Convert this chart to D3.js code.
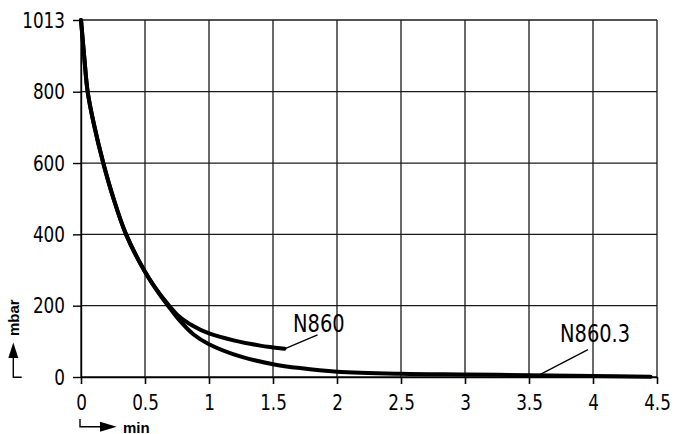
<!DOCTYPE html>
<html>
<head>
<meta charset="utf-8">
<script src="https://cdn.jsdelivr.net/npm/d3@7"></script>
<style>
  body { margin: 0; background: #fff; }
  svg { display: block; }
  .axis text { font-family: "Liberation Sans Narrow", "DejaVu Sans Condensed", "Liberation Sans", sans-serif; fill: #000; }
</style>
</head>
<body>
<div id="chart-area"></div>
<script>
// pump-down curves, pressure in mbar against time in min
var timeN860 = [0, 0.025, 0.052, 0.1, 0.174, 0.25, 0.352, 0.5, 0.617, 0.68, 0.76, 0.877, 1.0, 1.2, 1.4, 1.5, 1.59];
var pressN860 = [1013, 905, 800, 710, 600, 505, 400, 295, 232, 204, 172, 143, 122, 102, 88, 83, 79];

var timeN8603 = [0, 0.025, 0.052, 0.1, 0.174, 0.25, 0.352, 0.5, 0.617, 0.68, 0.76, 0.877, 1.0, 1.25, 1.5, 1.71, 2.0, 2.5, 3.0, 3.5, 4.0, 4.45];
var pressN8603 = [1013, 905, 800, 710, 600, 505, 400, 295, 230, 200, 163, 120, 92, 57, 36, 25, 15, 9, 7, 5, 3, 1];

var xTicks = [0, 0.5, 1, 1.5, 2, 2.5, 3, 3.5, 4, 4.5];
var xTickLabels = ["0", "0.5", "1", "1.5", "2", "2.5", "3", "3.5", "4", "4.5"];
var yTicks = [0, 200, 400, 600, 800, 1013];
var yTickLabels = ["0", "200", "400", "600", "800", "1013"];

var seriesNames = ["N860", "N860.3"];

var width = 674, height = 434;
var plotLeft = 81, plotRight = 657, plotTop = 20, plotBottom = 377;
var squeeze = 0.85;

var svg = d3.select("#chart-area").append("svg")
    .attr("width", width)
    .attr("height", height);

var x = d3.scaleLinear().domain([0, 4.5]).range([plotLeft, plotRight]);
// top of the grid is marked 1013 though it sits about where 1000 would
var y = d3.scaleLinear().domain([0, 800, 1013]).range([plotBottom, 91.7, plotTop]);

var font = '"Liberation Sans Narrow", "DejaVu Sans Condensed", "Liberation Sans", sans-serif';

// grid
var grid = svg.append("g").attr("stroke", "#1a1a1a").attr("stroke-width", 1.3);
grid.selectAll("line.h")
    .data(yTicks)
    .enter().append("line")
    .attr("class", "h")
    .attr("x1", plotLeft).attr("x2", plotRight)
    .attr("y1", (d) => y(d)).attr("y2", (d) => y(d));
grid.selectAll("line.v")
    .data(xTicks)
    .enter().append("line")
    .attr("class", "v")
    .attr("x1", (d) => x(d)).attr("x2", (d) => x(d))
    .attr("y1", plotTop).attr("y2", plotBottom);

var xAxis = d3.axisBottom(x)
    .tickValues(xTicks)
    .tickFormat((d, i) => xTickLabels[i])
    .tickSizeInner(7)
    .tickSizeOuter(0)
    .tickPadding(10);
svg.append("g")
    .attr("class", "axis")
    .attr("transform", "translate(0," + plotBottom + ")")
    .call(xAxis)
    .attr("font-size", 22)
    .call((g) => g.selectAll("line,path").attr("stroke", "#000").attr("stroke-width", 1.6))
    .call((g) => g.selectAll("text").attr("transform", "scale(" + squeeze + ",1)"));

var yAxis = d3.axisLeft(y)
    .tickValues(yTicks)
    .tickFormat((d, i) => yTickLabels[i])
    .tickSizeInner(8)
    .tickSizeOuter(0)
    .tickPadding(8);
svg.append("g")
    .attr("class", "axis")
    .attr("transform", "translate(" + plotLeft + ",0)")
    .call(yAxis)
    .attr("font-size", 22)
    .call((g) => g.selectAll("line,path").attr("stroke", "#000").attr("stroke-width", 1.4))
    .call((g) => g.selectAll("text")
        .attr("x", -16 / squeeze)
        .attr("transform", "scale(" + squeeze + ",1)"));

// curves
var line = d3.line()
    .x((d) => x(d[0]))
    .y((d) => y(d[1]))
    .curve(d3.curveCatmullRom.alpha(0.5));

var dataN860 = timeN860.map((t, i) => [t, pressN860[i]]);
var dataN8603 = timeN8603.map((t, i) => [t, pressN8603[i]]);

[dataN8603, dataN860].forEach((data) => {
    svg.append("path")
        .datum(data)
        .attr("d", line)
        .attr("fill", "none")
        .attr("stroke", "#000")
        .attr("stroke-width", 4)
        .attr("stroke-linecap", "round");
});

// curve labels with leader lines
var endN860 = dataN860[dataN860.length - 1];
svg.append("line")
    .attr("x1", x(endN860[0])).attr("y1", y(endN860[1]))
    .attr("x2", x(endN860[0]) + 33).attr("y2", y(endN860[1]) - 14)
    .attr("stroke", "#000").attr("stroke-width", 1.3);
svg.append("text")
    .attr("transform", "translate(293,332) scale(0.9,1)")
    .attr("font-family", font).attr("font-size", 24)
    .text(seriesNames[0]);

svg.append("line")
    .attr("x1", x(3.57)).attr("y1", y(4))
    .attr("x2", x(3.57) + 50).attr("y2", y(4) - 26)
    .attr("stroke", "#000").attr("stroke-width", 1.3);
svg.append("text")
    .attr("transform", "translate(560,342) scale(0.9,1)")
    .attr("font-family", font).attr("font-size", 24)
    .text(seriesNames[1]);

// unit markers
svg.append("path")
    .attr("d", "M21.7,377.3 H13.3 V356")
    .attr("fill", "none").attr("stroke", "#000").attr("stroke-width", 1.4);
svg.append("path")
    .attr("d", "M13.3,342.5 L8.3,358 L18.3,358 Z")
    .attr("fill", "#000");
svg.append("text")
    .attr("transform", "translate(18.5,336) rotate(-90)")
    .attr("font-family", "Liberation Sans, Arial, sans-serif")
    .attr("font-weight", "bold").attr("font-size", 15)
    .text("mbar");

svg.append("path")
    .attr("d", "M80,419 V426.7 H102")
    .attr("fill", "none").attr("stroke", "#000").attr("stroke-width", 1.4);
svg.append("path")
    .attr("d", "M116.7,426.7 L100,421.7 L100,431.7 Z")
    .attr("fill", "#000");
svg.append("text")
    .attr("x", 123).attr("y", 432.5)
    .attr("font-family", "Liberation Sans, Arial, sans-serif")
    .attr("font-weight", "bold").attr("font-size", 15)
    .text("min");
</script>
</body>
</html>
